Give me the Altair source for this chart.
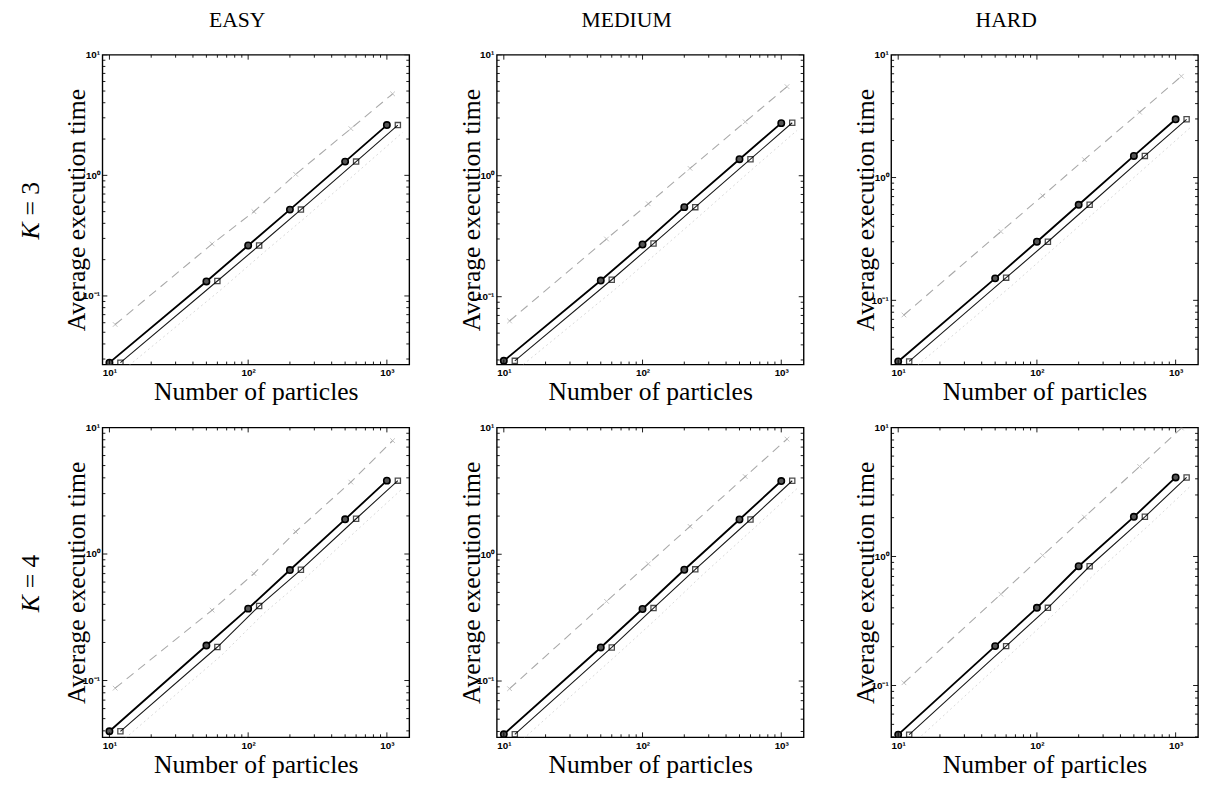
import altair as alt
import pandas as pd

# ---------------- data ----------------
col_titles = ["EASY", "MEDIUM", "HARD"]
row_k = ["3", "4"]

n_circle = [10, 50, 100, 200, 500, 1000]
n_square = [12, 60, 120, 240, 600, 1200]
n_dashed = [11, 55, 110, 220, 550, 1100]
n_dotted = [13, 65, 130, 260, 650, 1300]

# K = 3
easy3_circle = [0.028, 0.132, 0.262, 0.52, 1.30, 2.61]
easy3_square = [0.028, 0.133, 0.262, 0.52, 1.30, 2.61]
easy3_dashed = [0.058, 0.27, 0.50, 1.02, 2.44, 4.74]
easy3_dotted = [0.025, 0.115, 0.23, 0.45, 1.13, 2.27]

medium3_circle = [0.0295, 0.136, 0.27, 0.55, 1.37, 2.72]
medium3_square = [0.0295, 0.138, 0.275, 0.55, 1.37, 2.74]
medium3_dashed = [0.063, 0.30, 0.586, 1.15, 2.79, 5.45]
medium3_dotted = [0.026, 0.118, 0.235, 0.47, 1.19, 2.37]

hard3_circle = [0.0318, 0.151, 0.30, 0.60, 1.50, 2.98]
hard3_square = [0.0318, 0.153, 0.30, 0.60, 1.50, 2.98]
hard3_dashed = [0.076, 0.363, 0.71, 1.40, 3.40, 6.68]
hard3_dotted = [0.028, 0.13, 0.26, 0.52, 1.30, 2.60]

# K = 4
easy4_circle = [0.0397, 0.189, 0.37, 0.747, 1.88, 3.80]
easy4_square = [0.0397, 0.184, 0.388, 0.75, 1.90, 3.80]
easy4_dashed = [0.087, 0.36, 0.70, 1.50, 3.70, 7.87]
easy4_dotted = [0.035, 0.16, 0.34, 0.65, 1.65, 3.30]

medium4_circle = [0.038, 0.184, 0.37, 0.755, 1.88, 3.78]
medium4_square = [0.038, 0.184, 0.376, 0.76, 1.88, 3.80]
medium4_dashed = [0.087, 0.425, 0.84, 1.66, 4.10, 8.10]
medium4_dotted = [0.033, 0.16, 0.32, 0.66, 1.64, 3.30]

hard4_circle = [0.0416, 0.202, 0.40, 0.84, 2.03, 4.10]
hard4_square = [0.0416, 0.202, 0.40, 0.84, 2.03, 4.10]
hard4_dashed = [0.105, 0.51, 1.02, 2.02, 4.99, 9.90]
hard4_dotted = [0.036, 0.176, 0.35, 0.73, 1.77, 3.57]

y_min = [[0.027, 0.0275, 0.030], [0.0356, 0.036, 0.0397]]
x_domain = [8.9, 1450]

x_major = [10, 100, 1000]
x_minor = [20, 30, 40, 50, 60, 70, 80, 90, 200, 300, 400, 500, 600, 700, 800, 900]
y_major = [0.1, 1, 10]
y_minor = [0.03, 0.04, 0.05, 0.06, 0.07, 0.08, 0.09,
           0.2, 0.3, 0.4, 0.5, 0.6, 0.7, 0.8, 0.9,
           2, 3, 4, 5, 6, 7, 8, 9]

title_dx = [-19, -24, -39]

series = [
    [(easy3_circle, easy3_square, easy3_dashed, easy3_dotted),
     (medium3_circle, medium3_square, medium3_dashed, medium3_dotted),
     (hard3_circle, hard3_square, hard3_dashed, hard3_dotted)],
    [(easy4_circle, easy4_square, easy4_dashed, easy4_dotted),
     (medium4_circle, medium4_square, medium4_dashed, medium4_dotted),
     (hard4_circle, hard4_square, hard4_dashed, hard4_dotted)],
]

W, H = 312, 315
SERIF = "Liberation Serif"
SANS = "Liberation Sans"
XMARK = "M-1,-1L1,1M-1,1L1,-1"


def panel(r, c):
    circ, sq, dash, dot = series[r][c]
    ymin = y_min[r][c]
    xs = alt.Scale(type="log", domain=x_domain, nice=False)
    ys = alt.Scale(type="log", domain=[ymin, 10], nice=False)
    X = alt.X("x:Q", scale=xs, axis=alt.Axis(
        values=x_major, ticks=False, domain=False, grid=False,
        labelExpr="datum.value == 10 ? '10¹' : datum.value == 100 ? '10²' : '10³'",
        labelFont=SANS, labelFontSize=10, labelFontWeight="bold", labelColor="black",
        labelPadding=3, labelFlush=False,
        title="Number of particles", titleFont=SERIF, titleFontSize=26,
        titleFontWeight="normal", titleColor="black",
        titleX=W / 2, titleY=36, titleAlign="center", titleBaseline="alphabetic"))
    Y = alt.Y("y:Q", scale=ys, axis=alt.Axis(
        values=y_major, ticks=False, domain=False, grid=False,
        labelExpr="datum.value < 0.5 ? '10⁻¹' : datum.value < 5 ? '10⁰' : '10¹'",
        labelFont=SANS, labelFontSize=10, labelFontWeight="bold", labelColor="black",
        labelPadding=3, labelFlush=False,
        title="Average execution time", titleFont=SERIF, titleFontSize=26,
        titleFontWeight="normal", titleColor="black", titleAngle=270,
        titleX=-18, titleY=H / 2, titleAlign="center", titleBaseline="alphabetic"))

    d_circ = pd.DataFrame({"x": n_circle, "y": circ})
    d_sq = pd.DataFrame({"x": n_square, "y": sq})
    d_dash = pd.DataFrame({"x": n_dashed, "y": dash})
    d_dot = pd.DataFrame({"x": n_dotted, "y": dot})

    layers = []
    layers.append(alt.Chart(d_dash).mark_line(color="#a8a8a8", strokeWidth=1.1,
                                              strokeDash=[9, 6], clip=True).encode(x=X, y=Y))
    layers.append(alt.Chart(d_dash).mark_point(shape=XMARK, filled=False, color="#a8a8a8",
                                               size=22, strokeWidth=1, clip=True).encode(x=X, y=Y))
    layers.append(alt.Chart(d_dot).mark_line(color="#d8d8d8", strokeWidth=1,
                                             strokeDash=[2, 3], clip=True).encode(x=X, y=Y))
    layers.append(alt.Chart(d_sq).mark_line(color="#1a1a1a", strokeWidth=1.1,
                                            clip=True).encode(x=X, y=Y))
    layers.append(alt.Chart(d_sq).mark_point(shape="square", filled=False, color="black",
                                             size=28, strokeWidth=1.3, clip=True).encode(x=X, y=Y))
    layers.append(alt.Chart(d_circ).mark_line(color="black", strokeWidth=1.9,
                                              clip=True).encode(x=X, y=Y))
    layers.append(alt.Chart(d_circ).mark_point(shape="circle", filled=True, fill="#555555",
                                               stroke="black", size=42, strokeWidth=1.6,
                                               opacity=1, clip=True).encode(x=X, y=Y))

    # inward ticks (Matlab style box ticks)
    xmaj = pd.DataFrame({"x": x_major})
    xmin_ = pd.DataFrame({"x": x_minor})
    ymaj = pd.DataFrame({"y": [v for v in y_major if v >= ymin]})
    ymin_ = pd.DataFrame({"y": [v for v in y_minor if v >= ymin]})
    tick = dict(color="black", strokeWidth=0.9, clip=True)
    for df, ln in ((xmaj, 5), (xmin_, 3)):
        layers.append(alt.Chart(df).mark_rule(**tick).encode(
            x=X, y=alt.value(H), y2=alt.value(H - ln)))
        layers.append(alt.Chart(df).mark_rule(**tick).encode(
            x=X, y=alt.value(0), y2=alt.value(ln)))
    for df, ln in ((ymaj, 5), (ymin_, 3)):
        layers.append(alt.Chart(df).mark_rule(**tick).encode(
            y=Y, x=alt.value(0), x2=alt.value(ln)))
        layers.append(alt.Chart(df).mark_rule(**tick).encode(
            y=Y, x=alt.value(W), x2=alt.value(W - ln)))

    one = pd.DataFrame({"a": [0]})
    if r == 0:
        layers.append(alt.Chart(one).mark_text(
            text=col_titles[c], font=SERIF, fontSize=22, color="black",
            align="center", baseline="alphabetic").encode(
            x=alt.value(W / 2 + title_dx[c]), y=alt.value(-28)))
    if c == 0:
        layers.append(alt.Chart(one).mark_text(
            text="K", font=SERIF, fontSize=26, fontStyle="italic", color="black",
            align="right", baseline="middle", angle=270).encode(
            x=alt.value(-72), y=alt.value(H / 2 + 13)))
        layers.append(alt.Chart(one).mark_text(
            text="= " + row_k[r], font=SERIF, fontSize=26, color="black",
            align="left", baseline="middle", angle=270).encode(
            x=alt.value(-72), y=alt.value(H / 2 + 6)))

    return alt.layer(*layers).properties(width=W, height=H)


rows = []
for r in range(2):
    rows.append(alt.hconcat(*[panel(r, c) for c in range(3)], spacing=48))

chart = alt.vconcat(*rows, spacing=16).properties(
    padding={"left": 10, "top": -6, "right": 0, "bottom": 0},
    background="white",
).configure_view(stroke="black", strokeWidth=1.4).configure_concat(spacing=0)

chart.save("out.html", embed_options={"renderer": "svg", "actions": False})
